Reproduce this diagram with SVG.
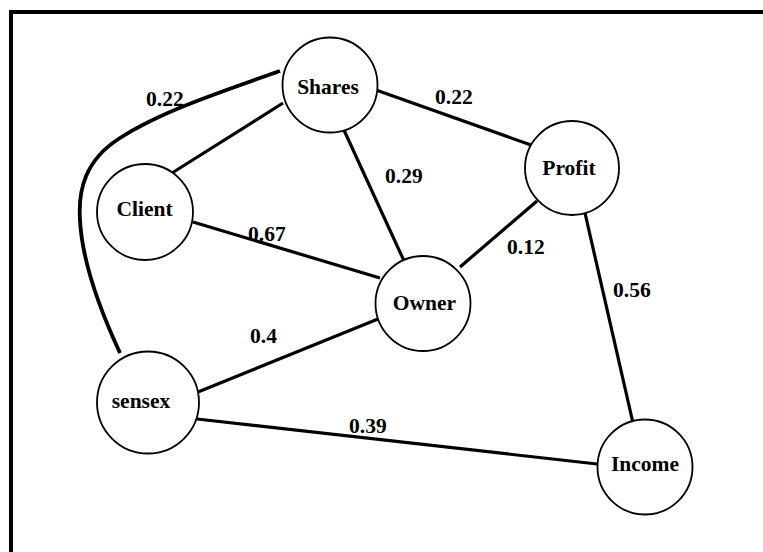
<svg xmlns="http://www.w3.org/2000/svg" width="763" height="552" viewBox="0 0 763 552">
<style>
.node circle{fill:#fff;stroke:#000;stroke-width:1.8}
.node text,.lbl{font-family:"Liberation Serif","Times New Roman",serif;font-weight:bold;font-size:21.5px;fill:#000}
.node text{text-anchor:middle}
.edge{stroke:#000;stroke-width:3.2;fill:none;stroke-linecap:butt}
.curve{stroke-width:3.8}
.frame{stroke:#000;stroke-width:4;fill:none}
</style>
<rect width="763" height="552" fill="#fff"/>
<path class="frame" d="M11 552 L11 12 L763 12"/>
<g id="connectors">
<path class="edge curve" d="M280 71 C220 92,160 112,120 138 C85 160,78 190,80 220 C82 260,100 310,120 353"/>
<line class="edge" x1="172" y1="173" x2="283" y2="103"/>
<line class="edge" x1="343" y1="128" x2="405" y2="263"/>
<line class="edge" x1="376" y1="90" x2="531" y2="145"/>
<line class="edge" x1="537" y1="201" x2="460" y2="267"/>
<line class="edge" x1="585" y1="213" x2="633" y2="423"/>
<line class="edge" x1="193" y1="222" x2="380" y2="278"/>
<line class="edge" x1="198" y1="392" x2="378" y2="319"/>
<line class="edge" x1="197" y1="419" x2="597" y2="464"/>
<text class="lbl" x="146" y="106">0.22</text>
<text class="lbl" x="435" y="104">0.22</text>
<text class="lbl" x="385" y="183">0.29</text>
<text class="lbl" x="248" y="241">0.67</text>
<text class="lbl" x="507" y="254">0.12</text>
<text class="lbl" x="613" y="297">0.56</text>
<text class="lbl" x="250" y="343">0.4</text>
<text class="lbl" x="349" y="433">0.39</text>
</g>
<g id="node-shares" class="node"><circle cx="330" cy="85" r="47.5"/><text x="328" y="94">Shares</text></g>
<g id="node-client" class="node"><circle cx="145" cy="212" r="48"/><text x="144.5" y="216">Client</text></g>
<g id="node-profit" class="node"><circle cx="572" cy="168" r="47"/><text x="569" y="175">Profit</text></g>
<g id="node-owner" class="node"><circle cx="423" cy="303.5" r="47.5"/><text x="424.5" y="310">Owner</text></g>
<g id="node-sensex" class="node"><circle cx="148" cy="402.5" r="51"/><text x="141" y="408">sensex</text></g>
<g id="node-income" class="node"><circle cx="645" cy="467" r="47.5"/><text x="645" y="471">Income</text></g>
</svg>
